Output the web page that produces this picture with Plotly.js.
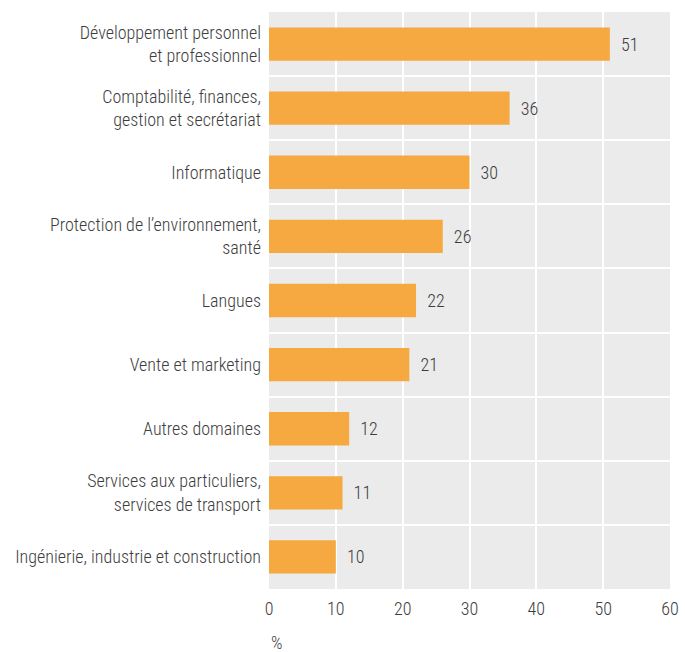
<!DOCTYPE html>
<html><head><meta charset="utf-8">
<script src="https://cdn.plot.ly/plotly-3.0.1.min.js"></script>
<style>body{margin:0;background:#fff}#c{width:685px;height:652px}</style>
</head><body><div id="c"></div>
<script>
const categories = [
  "Développement personnel<br>et professionnel",
  "Comptabilité, finances,<br>gestion et secrétariat",
  "Informatique",
  "Protection de l’environnement,<br>santé",
  "Langues",
  "Vente et marketing",
  "Autres domaines",
  "Services aux particuliers,<br>services de transport",
  "Ingénierie, industrie et construction"
];
const values = [51, 36, 30, 26, 22, 21, 12, 11, 10];
const xTicks = [0, 10, 20, 30, 40, 50, 60];
const FONT = '"Roboto Condensed", "Liberation Sans Narrow", "Arial Narrow", sans-serif';
const TXT = '#3d3d3d';

Plotly.newPlot('c', [{
  type: 'bar', orientation: 'h',
  x: values, y: categories,
  marker: {color: '#f5a940'},
  width: 0.52,
  text: values.map(v => '\u00a0\u00a0' + v),
  textposition: 'outside',
  cliponaxis: false,
  textfont: {family: FONT, size: 18, color: TXT, weight: 300},
  hoverinfo: 'none'
}], {
  width: 685, height: 652,
  margin: {l: 269, r: 15, t: 12, b: 63},
  paper_bgcolor: '#ffffff', plot_bgcolor: '#ebebeb',
  showlegend: false,
  font: {family: FONT, size: 18, color: TXT, weight: 300},
  xaxis: {
    range: [0, 60], tickvals: xTicks, ticktext: xTicks.map(String),
    showgrid: true, gridcolor: '#ffffff', gridwidth: 2,
    zeroline: false, showline: false, ticks: '', ticklabelstandoff: 7,
    tickfont: {family: FONT, size: 18, color: TXT, weight: 300}
  },
  yaxis: {
    type: 'category', autorange: 'reversed',
    tickson: 'boundaries', showgrid: true, gridcolor: '#ffffff', gridwidth: 2,
    ticks: '', showline: false, zeroline: false, ticklabelstandoff: 7,
    tickfont: {family: FONT, size: 18, color: TXT, weight: 300}
  },
  annotations: [{
    text: '%', xref: 'paper', yref: 'paper', x: 0, y: -0.092,
    xanchor: 'left', yanchor: 'middle', showarrow: false,
    font: {family: FONT, size: 18, color: TXT, weight: 300}
  }]
}, {staticPlot: true});
</script></body></html>
